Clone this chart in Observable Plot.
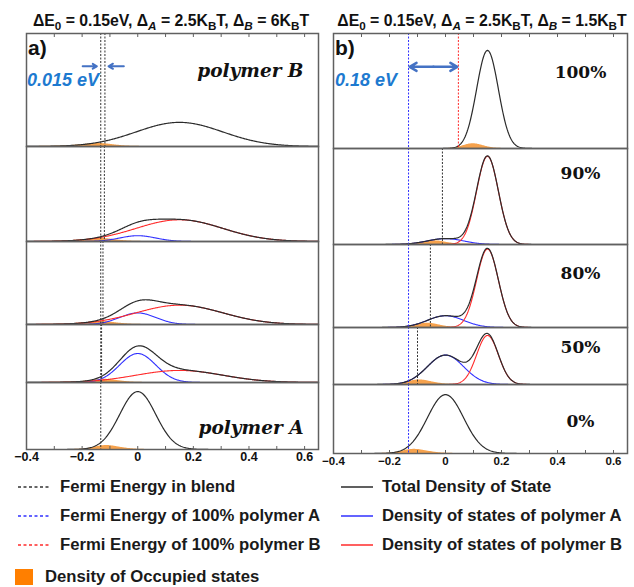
<!DOCTYPE html>
<html><head><meta charset="utf-8">
<script src="https://cdn.jsdelivr.net/npm/d3@7"></script>
<script src="https://cdn.jsdelivr.net/npm/@observablehq/plot@0.6"></script>
<style>
body{margin:0;background:#fff;}
#root{position:relative;width:634px;height:587px;overflow:hidden;font-family:"Liberation Sans",Arial,sans-serif;color:#111;}
.abs{position:absolute;white-space:nowrap;}
.ttl{font-weight:bold;font-size:15.8px;transform:translateX(-50%);}
.ttl sub{font-size:0.74em;vertical-align:-0.3em;line-height:0;}
.leg{font-weight:bold;font-size:16.7px;color:#1a1a1a;transform:translateY(-50%);}
svg.sub{position:absolute;overflow:visible;}
</style></head>
<body><div id="root"></div>
<script>
// ---- data ----
const kT = 0.0259;                       // eV
const centerA = 0.0, centerB = 0.15;     // ΔE0 = 0.15 eV
const sigmaA_kT = 2.5;                   // Δ_A in k_BT
const sigmaB_kT_a = 6;                   // Δ_B panel a
const sigmaB_kT_b = 1.5;                 // Δ_B panel b
const fractionB = [1.0, 0.9, 0.8, 0.5, 0.0];
const labelsA = ["polymer B", "", "", "", "polymer A"];
const labelsB = ["100%", "90%", "80%", "50%", "0%"];
const fermiBlendA = [-0.118, -0.120, -0.125, -0.130, -0.133];
const fermiBlendB = [0.046, -0.011, -0.054, -0.100, -0.132];
const xTicks = [-0.4, -0.2, 0, 0.2, 0.4, 0.6];
const xMinorTicks = [-0.4,-0.3,-0.2,-0.1,0,0.1,0.2,0.3,0.4,0.5,0.6];
const energyGrid = d3.range(-0.4, 0.6501, 0.0025);

// ---- layout (pixels) ----
const panels = [
  {key:"a", left:26, width:292, tops:[33,146,241,324,382], bottom:449, ppu:9.4,
   sigmaB:sigmaB_kT_a*kT, fermi:fermiBlendA, labels:labelsA, mode:"a",
   labelDx:[-15,0,0,0,-15], labelDy:[38,0,0,0,46], tickFont:12.5, tickPad:3,
   title:'ΔE<sub>0</sub> = 0.15eV, Δ<sub><i>A</i></sub> = 2.5K<sub>B</sub>T, Δ<sub><i>B</i></sub> = 6K<sub>B</sub>T',
   titleX:171, letter:"a)"},
  {key:"b", left:333, width:294, tops:[33,148,244,327,384], bottom:453, ppu:9.55,
   sigmaB:sigmaB_kT_b*kT, fermi:fermiBlendB, labels:labelsB, mode:"b",
   labelDx:[-47,-47,-47,-47,-47], labelDy:[39,25,29,20,37], tickFont:11.5, tickPad:3,
   title:'ΔE<sub>0</sub> = 0.15eV, Δ<sub><i>A</i></sub> = 2.5K<sub>B</sub>T, Δ<sub><i>B</i></sub> = 1.5K<sub>B</sub>T',
   titleX:482, letter:"b)"}
];

const root = document.getElementById("root");
const gauss = (E, mu, s) => Math.exp(-((E-mu)**2)/(2*s*s)) / (s*Math.sqrt(2*Math.PI));
const fd = (E, EF) => 1/(1+Math.exp((E-EF)/kT));
const sigmaA = sigmaA_kT*kT;

const BLACK="#2b2b2b", BLUE="#3030ff", RED="#ff2b2b", ORANGE="#f5922e", FRAME="#606060", ARROW="#4472c4", TXTBLUE="#1d7ad0";
const M = 3;

for (const P of panels) {
  const pureA = P.fermi[4], pureB = P.fermi[0];
  for (let i = 0; i < 5; i++) {
    const top = P.tops[i];
    const bot = i < 4 ? P.tops[i+1] : P.bottom;
    const h = bot - top;
    const fB = fractionB[i];
    const ef = P.fermi[i];
    const rows = energyGrid.map(E => {
      const a = (1-fB)*gauss(E, centerA, sigmaA);
      const b = fB*gauss(E, centerB, P.sigmaB);
      return {E, a, b, total:a+b, occ:(a+b)*fd(E, ef)};
    });
    const ymax = h / P.ppu;
    const last = i === 4;
    const marks = [];
    marks.push(Plot.areaY(rows, {x:"E", y:"occ", fill:ORANGE, fillOpacity:0.85}));
    if (fB > 0 && fB < 1) {
      marks.push(Plot.lineY(rows, {x:"E", y:"a", stroke:BLUE, strokeWidth:1.1}));
      marks.push(Plot.lineY(rows, {x:"E", y:"b", stroke:RED, strokeWidth:1.1}));
    }
    marks.push(Plot.lineY(rows, {x:"E", y:"total", stroke:BLACK, strokeWidth:1.2}));
    // Fermi levels
    if (P.mode === "a") {
      marks.push(Plot.ruleX([pureA], {stroke:"#333", strokeWidth:1, strokeDasharray:"2,1.5"}));
      if (ef !== pureA) marks.push(Plot.ruleX([ef], {stroke:"#333", strokeWidth:1, strokeDasharray:"2,1.5"}));
    } else {
      marks.push(Plot.ruleX([pureA], {stroke:BLUE, strokeWidth:1, strokeDasharray:"2,1.5"}));
      if (i === 0) marks.push(Plot.ruleX([pureB], {stroke:RED, strokeWidth:1, strokeDasharray:"2,1.5"}));
      else if (i < 4) marks.push(Plot.ruleX([ef], {stroke:"#333", strokeWidth:1, strokeDasharray:"2,1.5"}));
    }
    // annotations in top subplot
    if (i === 0) {
      const ya = ymax*0.71;
      if (P.mode === "a") {
        marks.push(Plot.arrow([{x1:pureA-0.065, x2:pureA-0.014, y:ya}], {x1:"x1", x2:"x2", y1:"y", y2:"y", stroke:ARROW, strokeWidth:2, headLength:6}));
        marks.push(Plot.arrow([{x1:pureB+0.068, x2:pureB+0.013, y:ya}], {x1:"x1", x2:"x2", y1:"y", y2:"y", stroke:ARROW, strokeWidth:2, headLength:6}));
      } else {
        const mid = (pureA+pureB)/2;
        marks.push(Plot.arrow([{x1:mid, x2:pureA+0.004, y:ya},{x1:mid, x2:pureB-0.004, y:ya}], {x1:"x1", x2:"x2", y1:"y", y2:"y", stroke:ARROW, strokeWidth:2.5, headLength:9}));
      }
    }
    if (P.labels[i]) {
      const serifItalic = P.mode === "a";
      marks.push(Plot.text([P.labels[i]], {frameAnchor:"top-right", textAnchor: serifItalic ? "end" : "middle",
        lineAnchor:"middle", dx:P.labelDx[i], dy:P.labelDy[i],
        fontFamily:"DejaVu Serif", fontStyle: serifItalic ? "italic" : "normal", fontWeight:"bold",
        fontSize: serifItalic ? 18.5 : 17, fill:"#111"}));
    }
    marks.push(Plot.frame({stroke:FRAME, strokeWidth:1.5}));
    if (i === 0) {
      marks.push(Plot.axisX({anchor:"top", ticks:xMinorTicks, tickSize:-3, tickFormat:() => "", label:null, stroke:FRAME}));
    }
    if (last) {
      marks.push(Plot.axisX({anchor:"bottom", ticks:xMinorTicks, tickSize:-3, tickFormat:() => "", label:null, stroke:FRAME}));
      marks.push(Plot.axisX({anchor:"bottom", ticks:xTicks, tickSize:0, tickPadding:P.tickPad, label:null,
        tickFormat:d => d === 0 ? "0" : d3.format(".1f")(d), fill:"#111"}));
    }
    const svg = Plot.plot({
      width: P.width + 2*M,
      height: h + M + (last ? 24 : M),
      marginTop: M, marginLeft: M, marginRight: M, marginBottom: last ? 24 : M,
      x: {domain:[-0.4, 0.65], axis:null},
      y: {domain:[0, ymax], axis:null},
      style: {fontFamily:"Liberation Sans, Arial, sans-serif", fontWeight:"bold", fontSize:P.tickFont+"px",
              background:"transparent", overflow:"visible"},
      marks
    });
    svg.classList.add("sub");
    svg.style.left = (P.left - M) + "px";
    svg.style.top = (top - M) + "px";
    svg.style.position = "absolute";
    root.appendChild(svg);
  }
  const t = document.createElement("div");
  t.className = "abs ttl";
  t.style.left = P.titleX + "px"; t.style.top = "12px";
  t.innerHTML = P.title;
  root.appendChild(t);
  const L = document.createElement("div");
  L.className = "abs";
  L.style.cssText = `left:${P.left+2}px;top:36px;font-weight:bold;font-size:21px;`;
  L.textContent = P.letter;
  root.appendChild(L);
}

// annotation texts
function addText(txt, x, y, css) {
  const d = document.createElement("div");
  d.className = "abs";
  d.style.cssText = `left:${x}px;top:${y}px;transform:translateY(-50%);` + css;
  d.textContent = txt;
  root.appendChild(d);
}
const annCss = `color:${TXTBLUE};font-weight:bold;font-style:italic;font-size:18px;`;
addText((fermiBlendA[0]-fermiBlendA[4]).toFixed(3) + " eV", 27, 80, annCss);
addText((fermiBlendB[0]-fermiBlendB[4]).toFixed(2) + " eV", 335, 80, annCss);

// legend
const legendLeft = [
  {label:"Fermi Energy in blend", color:"#333", dash:"3,2.5"},
  {label:"Fermi Energy of 100% polymer A", color:BLUE, dash:"3,2.5"},
  {label:"Fermi Energy of 100% polymer B", color:RED, dash:"3,2.5"}
];
const legendRight = [
  {label:"Total Density of State", color:BLACK, dash:null},
  {label:"Density of states of polymer A", color:BLUE, dash:null},
  {label:"Density of states of polymer B", color:RED, dash:null}
];
const rowsY = [487, 516, 545];
function legendRow(item, x0, x1, tx, y) {
  const s = document.createElementNS("http://www.w3.org/2000/svg", "svg");
  s.setAttribute("width", x1-x0+2); s.setAttribute("height", 6);
  s.style.cssText = `position:absolute;left:${x0}px;top:${y-3}px;`;
  const ln = document.createElementNS("http://www.w3.org/2000/svg", "line");
  ln.setAttribute("x1", 1); ln.setAttribute("x2", x1-x0+1); ln.setAttribute("y1", 3); ln.setAttribute("y2", 3);
  ln.setAttribute("stroke", item.color); ln.setAttribute("stroke-width", 1.5);
  if (item.dash) ln.setAttribute("stroke-dasharray", item.dash);
  s.appendChild(ln); root.appendChild(s);
  const d = document.createElement("div");
  d.className = "abs leg"; d.style.left = tx + "px"; d.style.top = y + "px";
  d.textContent = item.label; root.appendChild(d);
}
legendLeft.forEach((it, k) => legendRow(it, 17, 50, 60, rowsY[k]));
legendRight.forEach((it, k) => legendRow(it, 340, 372, 382, rowsY[k]));
const sq = document.createElement("div");
sq.className = "abs";
sq.style.cssText = `left:15px;top:569px;width:18px;height:16px;background:#ff7f00;`;
root.appendChild(sq);
const occ = document.createElement("div");
occ.className = "abs leg"; occ.style.left = "45px"; occ.style.top = "577px";
occ.textContent = "Density of Occupied states";
root.appendChild(occ);
</script>
</body></html>
